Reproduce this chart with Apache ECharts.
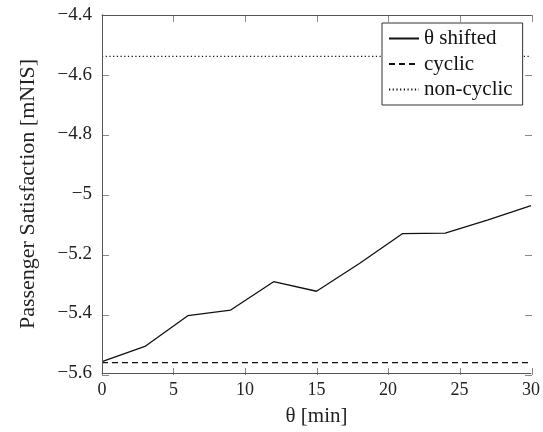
<!DOCTYPE html>
<html>
<head>
<meta charset="utf-8">
<style>
  html, body { margin: 0; padding: 0; background: #fff; }
  #chart { width: 543px; height: 432px; }
</style>
<script src="https://cdn.jsdelivr.net/npm/echarts@6/dist/echarts.min.js"></script>
</head>
<body>
<div id="chart"></div>
<script>
// Shift of the schedule offset θ in minutes
const theta = [0, 3, 6, 9, 12, 15, 18, 21, 24, 27, 30];
// Passenger satisfaction for the θ-shifted timetable
const shifted = [-5.562, -5.511, -5.408, -5.389, -5.294, -5.326, -5.233, -5.133, -5.131, -5.087, -5.039];
// Reference levels (constant over θ)
const cyclicLevel = -5.565;
const nonCyclicLevel = -4.539;
const xTicks = { min: 0, max: 30, step: 5 };
const yTicks = { min: -5.6, max: -4.4, step: 0.2 };

const FONT = '"Liberation Serif", "DejaVu Serif", serif';
const fmtY = v => String(+v.toFixed(1)).replace('-', '\u2212');

// plot frame (pixels from the container edges)
const P = { left: 102, right: 11, top: 15, bottom: 57 };
const TICK = 7;

const chart = echarts.init(document.getElementById('chart'), null, { renderer: 'canvas' });

const mkLine = () => ({ show: true, lineStyle: { color: '#555', width: 1 } });
const noTick = () => ({ show: false });
// inward tick marks: thin strips along each side whose split lines act as ticks
const tickAxis = (dim, grid) => Object.assign(
  { gridIndex: grid, type: 'value', z: 1,
    axisLine: { show: false }, axisTick: { show: false }, axisLabel: { show: false },
    splitLine: { show: true, lineStyle: { color: '#8a8a8a', width: 1 } } },
  dim === 'x'
    ? { min: xTicks.min, max: xTicks.max, interval: xTicks.step }
    : { min: yTicks.min, max: yTicks.max, interval: yTicks.step }
);
const hiddenAxis = grid => ({ gridIndex: grid, type: 'value', show: false, min: 0, max: 1 });

chart.setOption({
  animation: false,
  backgroundColor: '#fff',
  textStyle: { fontFamily: FONT },
  grid: [
    { left: P.left, right: P.right, top: P.top, bottom: P.bottom },
    { left: P.left, right: P.right, bottom: P.bottom, height: TICK },
    { left: P.left, right: P.right, top: P.top, height: TICK },
    { left: P.left, width: TICK, top: P.top, bottom: P.bottom },
    { right: P.right, width: TICK, top: P.top, bottom: P.bottom }
  ],
  legend: {
    orient: 'vertical',
    left: 382, top: 23, z: 10,
    itemWidth: 30, itemHeight: 14, itemGap: 4.5,
    padding: [5, 10, 5, 6],
    backgroundColor: '#fff',
    borderColor: '#333', borderWidth: 1, borderRadius: 0,
    itemStyle: { opacity: 0 },
    textStyle: { fontFamily: FONT, fontSize: 21, lineHeight: 21, color: '#111' },
    data: ['θ shifted', 'cyclic', 'non-cyclic']
  },
  xAxis: [
    {
      gridIndex: 0, type: 'value', position: 'bottom', z: 5,
      min: xTicks.min, max: xTicks.max, interval: xTicks.step,
      name: 'θ [min]', nameLocation: 'middle', nameGap: 33,
      nameTextStyle: { fontFamily: FONT, fontSize: 21, color: '#222' },
      axisLine: mkLine(), axisTick: noTick(),
      axisLabel: { margin: 8, fontFamily: FONT, fontSize: 18, color: '#222' },
      splitLine: { show: false }
    },
    {
      gridIndex: 0, type: 'value', position: 'top', z: 5,
      min: xTicks.min, max: xTicks.max, interval: xTicks.step,
      axisLine: mkLine(), axisTick: noTick(), axisLabel: { show: false }, splitLine: { show: false }
    },
    tickAxis('x', 1),
    tickAxis('x', 2),
    hiddenAxis(3),
    hiddenAxis(4)
  ],
  yAxis: [
    {
      gridIndex: 0, type: 'value', position: 'left', z: 5,
      min: yTicks.min, max: yTicks.max, interval: yTicks.step,
      name: 'Passenger Satisfaction [mNIS]', nameLocation: 'middle', nameGap: 63,
      nameTextStyle: { fontFamily: FONT, fontSize: 22, color: '#222' },
      axisLine: mkLine(), axisTick: noTick(),
      axisLabel: { margin: 10, fontFamily: FONT, fontSize: 19, color: '#222', formatter: fmtY },
      splitLine: { show: false }
    },
    {
      gridIndex: 0, type: 'value', position: 'right', z: 5,
      min: yTicks.min, max: yTicks.max, interval: yTicks.step,
      axisLine: mkLine(), axisTick: noTick(), axisLabel: { show: false }, splitLine: { show: false }
    },
    hiddenAxis(1),
    hiddenAxis(2),
    tickAxis('y', 3),
    tickAxis('y', 4)
  ],
  series: [
    {
      name: 'θ shifted', type: 'line', symbol: 'none', xAxisIndex: 0, yAxisIndex: 0, z: 3,
      lineStyle: { color: '#111', width: 1.3, type: 'solid' },
      itemStyle: { color: '#111' },
      data: theta.map((t, i) => [t, shifted[i]])
    },
    {
      name: 'cyclic', type: 'line', symbol: 'none', xAxisIndex: 0, yAxisIndex: 0, z: 3,
      lineStyle: { color: '#111', width: 1.3, type: [6, 4] },
      itemStyle: { color: '#111' },
      data: [[xTicks.min, cyclicLevel], [xTicks.max, cyclicLevel]]
    },
    {
      name: 'non-cyclic', type: 'line', symbol: 'none', xAxisIndex: 0, yAxisIndex: 0, z: 3,
      lineStyle: { color: '#111', width: 1.2, type: [1.2, 2.5] },
      itemStyle: { color: '#111' },
      data: [[xTicks.min, nonCyclicLevel], [xTicks.max, nonCyclicLevel]]
    }
  ]
});
</script>
</body>
</html>
